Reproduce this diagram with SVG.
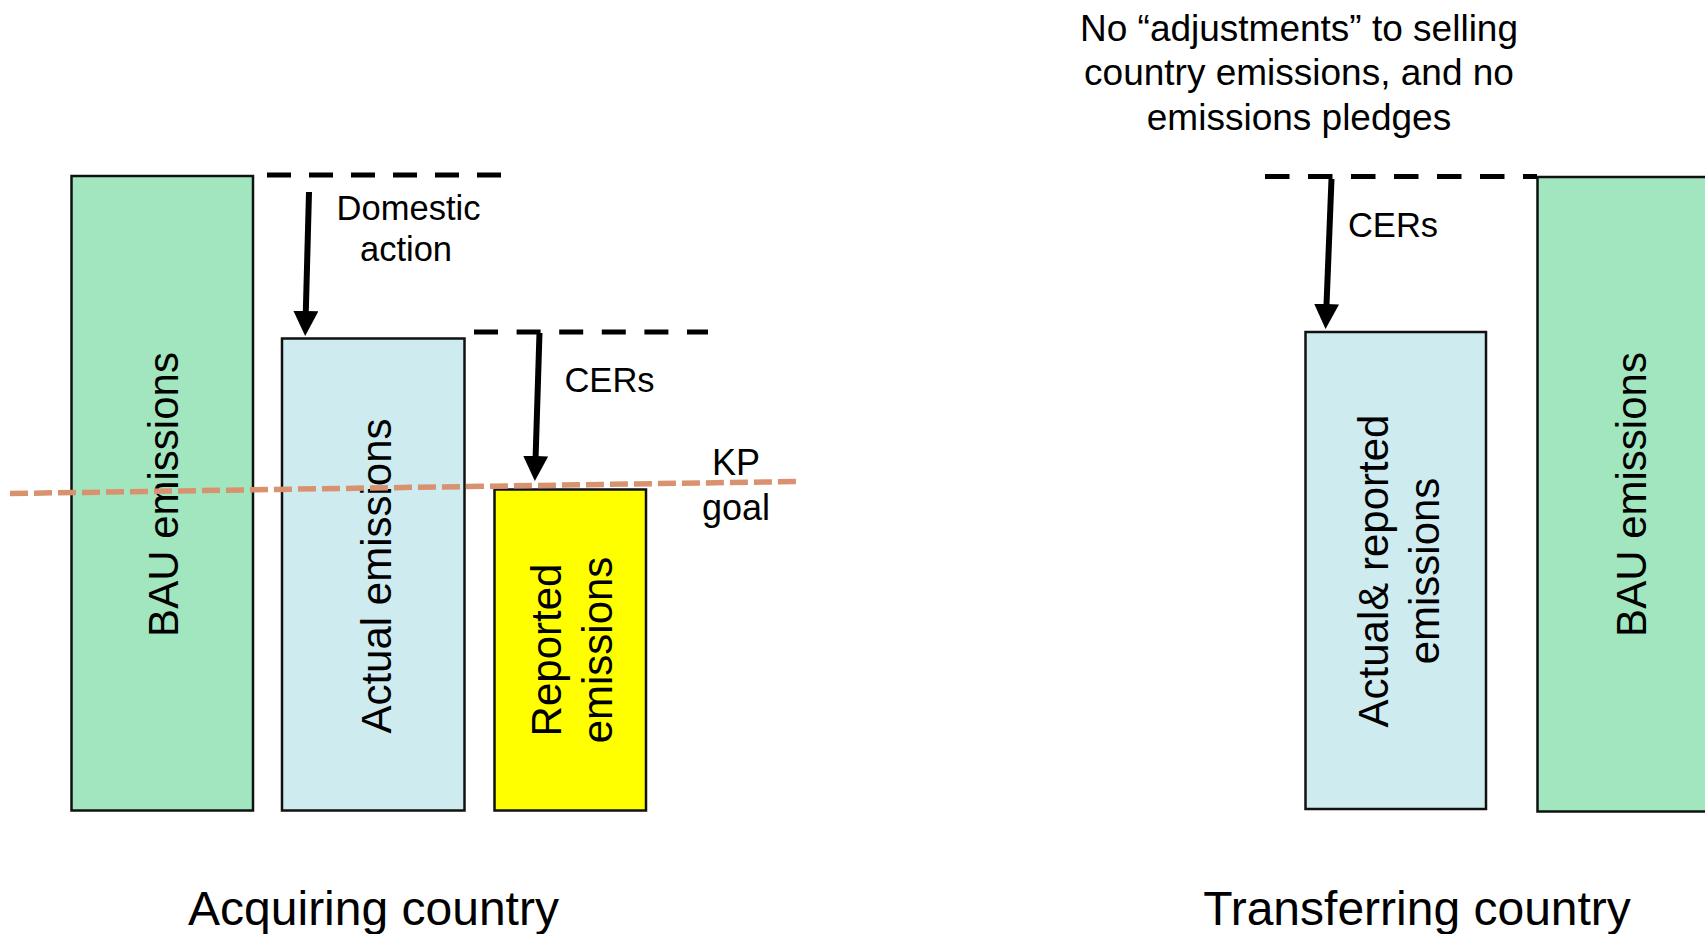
<svg xmlns="http://www.w3.org/2000/svg" width="1705" height="934" viewBox="0 0 1705 934">
<defs>
<style>
text{font-family:"Liberation Sans",Arial,sans-serif;fill:#000}
.bar{stroke:#111;stroke-width:2.5}
.bau{fill:#A2E6BF}
.act{fill:#CEEBF0}
.rep{fill:#FFFF00}
.rot{font-size:42px;text-anchor:middle}
.lbl{font-size:34.5px;text-anchor:middle}
.kp{font-size:36px;text-anchor:middle}
.top{font-size:37px;text-anchor:middle}
.cap{font-size:48px;text-anchor:middle}
.dash{stroke:#000;stroke-width:5;fill:none}
.arr{stroke:#000;stroke-width:6;fill:none;marker-end:url(#head)}
.goal{stroke:#D9926F;stroke-width:5.5;stroke-dasharray:18 6;fill:none}
</style>
<marker id="head" viewBox="0 -12.5 25 25" refX="1" refY="0" markerWidth="25" markerHeight="25" markerUnits="userSpaceOnUse" orient="auto">
<path d="M0,-12.5 L25,0 L0,12.5 Z" fill="#000"/>
</marker>
</defs>
<rect width="1705" height="934" fill="#fff"/>

<g id="acq-bau">
<rect class="bar bau" x="71.5" y="176" width="181.5" height="634.5"/>
<text class="rot" transform="translate(178,494.5) rotate(-90)">BAU emissions</text>
</g>
<g id="acq-actual">
<rect class="bar act" x="282" y="338.5" width="182.5" height="472"/>
<text class="rot" transform="translate(391,576) rotate(-90)">Actual emissions</text>
</g>
<g id="acq-reported">
<rect class="bar rep" x="494.5" y="489.5" width="151.5" height="321"/>
<text class="rot" transform="translate(561,650) rotate(-90)">Reported</text>
<text class="rot" transform="translate(612,650) rotate(-90)">emissions</text>
</g>
<g id="tr-actual">
<rect class="bar act" x="1305.5" y="332" width="180.5" height="477"/>
<text class="rot" transform="translate(1388,571) rotate(-90)">Actual&amp; reported</text>
<text class="rot" transform="translate(1439,571) rotate(-90)">emissions</text>
</g>
<g id="tr-bau">
<rect class="bar bau" x="1537.5" y="177" width="190" height="634.5"/>
<text class="rot" transform="translate(1646,494.5) rotate(-90)">BAU emissions</text>
</g>

<g id="labels">
<text class="lbl" x="408.5" y="220">Domestic</text>
<text class="lbl" x="406" y="261">action</text>
<text class="lbl" x="609.5" y="392">CERs</text>
<text class="kp" x="736" y="475">KP</text>
<text class="kp" x="736" y="520">goal</text>
<text class="lbl" x="1393" y="237">CERs</text>
<text class="top" x="1299" y="40.5">No “adjustments” to selling</text>
<text class="top" x="1299" y="85">country emissions, and no</text>
<text class="top" x="1299" y="129.5">emissions pledges</text>
<text class="cap" x="373.5" y="925">Acquiring country</text>
<text class="cap" x="1417" y="925">Transferring country</text>
</g>

<g id="connectors">
<line class="dash" x1="267" y1="175" x2="501" y2="175" stroke-dasharray="24 18"/>
<line class="dash" x1="474" y1="332" x2="708" y2="332" stroke-dasharray="24 18.6"/>
<line class="dash" x1="1265" y1="176.5" x2="1537" y2="176.5" stroke-dasharray="24.5 18.5"/>
<line class="arr" x1="309" y1="192" x2="305.8" y2="312"/>
<line class="arr" x1="539.5" y1="333" x2="535.6" y2="457"/>
<line class="arr" x1="1331.5" y1="179" x2="1326.5" y2="305"/>
<line class="goal" x1="10" y1="493.5" x2="797" y2="481.5"/>
</g>
</svg>
